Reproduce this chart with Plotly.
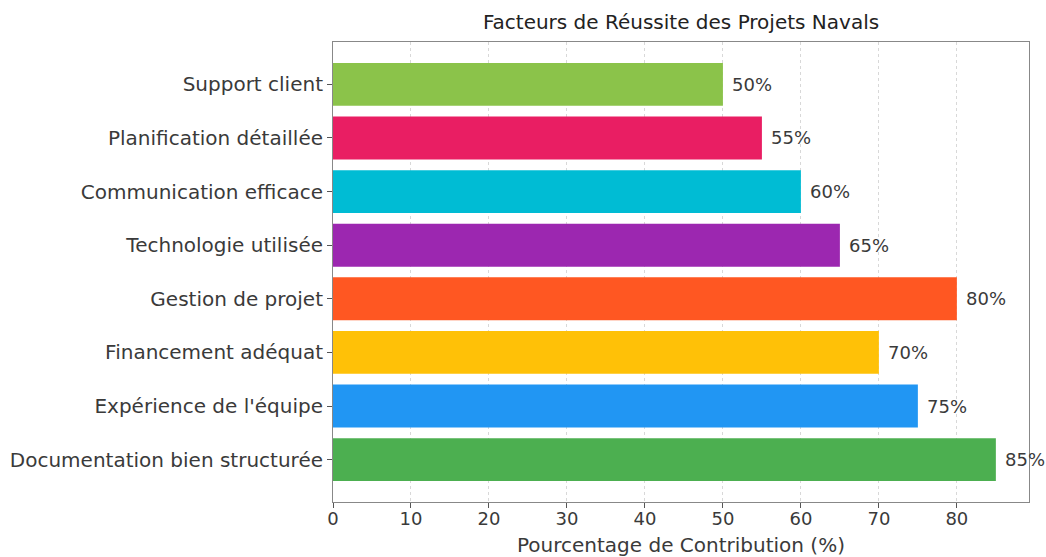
import plotly.graph_objects as go

categories = ["Documentation bien structurée", "Expérience de l'équipe", "Financement adéquat",
              "Gestion de projet", "Technologie utilisée", "Communication efficace",
              "Planification détaillée", "Support client"]
values = [85, 75, 70, 80, 65, 60, 55, 50]
colors = ["#4CAF50", "#2196F3", "#FFC107", "#FF5722", "#9C27B0", "#00BCD4", "#E91E63", "#8BC34A"]
x_ticks = [0, 10, 20, 30, 40, 50, 60, 70, 80]

FONT = "DejaVu Sans"
TXT = "#3a3a3a"
W, H = 1046, 557

fig = go.Figure()
fig.add_trace(go.Bar(
    y=categories, x=values, orientation="h",
    marker=dict(color=colors, line=dict(width=0)),
    width=0.8, showlegend=False,
))
for c, v in zip(categories, values):
    fig.add_annotation(x=v, y=c, text=f"{v}%", xanchor="left", xshift=7,
                       showarrow=False, font=dict(family=FONT, size=18, color=TXT))

fig.update_layout(
    width=W, height=H,
    margin=dict(l=333, r=17, t=42, b=H - 502, autoexpand=False),
    paper_bgcolor="white", plot_bgcolor="white",
    title=dict(text="Facteurs de Réussite des Projets Navals", x=681 / W,
               xanchor="center", y=1 - 22 / H, yanchor="middle",
               font=dict(family=FONT, size=20, color="#222")),
    font=dict(family=FONT, color=TXT),
)
fig.update_xaxes(
    range=[0, 89.25], tickvals=x_ticks, ticks="outside", ticklen=5, tickcolor="#555",
    tickfont=dict(family=FONT, size=18, color=TXT), ticklabelstandoff=-5,
    showgrid=True, gridcolor="#d8d8d8", griddash="dot", gridwidth=1,
    showline=True, linecolor="#888", linewidth=1, mirror=True, zeroline=False,
    automargin=False,
    title=dict(text="Pourcentage de Contribution (%)", font=dict(family=FONT, size=20, color=TXT), standoff=10),
)
fig.update_yaxes(
    range=[-0.79, 7.79], ticks="outside", ticklen=5, tickcolor="#555",
    tickfont=dict(family=FONT, size=20, color=TXT), automargin=False,
    showgrid=False, showline=True, linecolor="#888", linewidth=1, mirror=True,
)

fig.write_html("out.html", config={"displayModeBar": False},
               post_script="document.body.style.margin='0';document.body.style.overflow='hidden';")
